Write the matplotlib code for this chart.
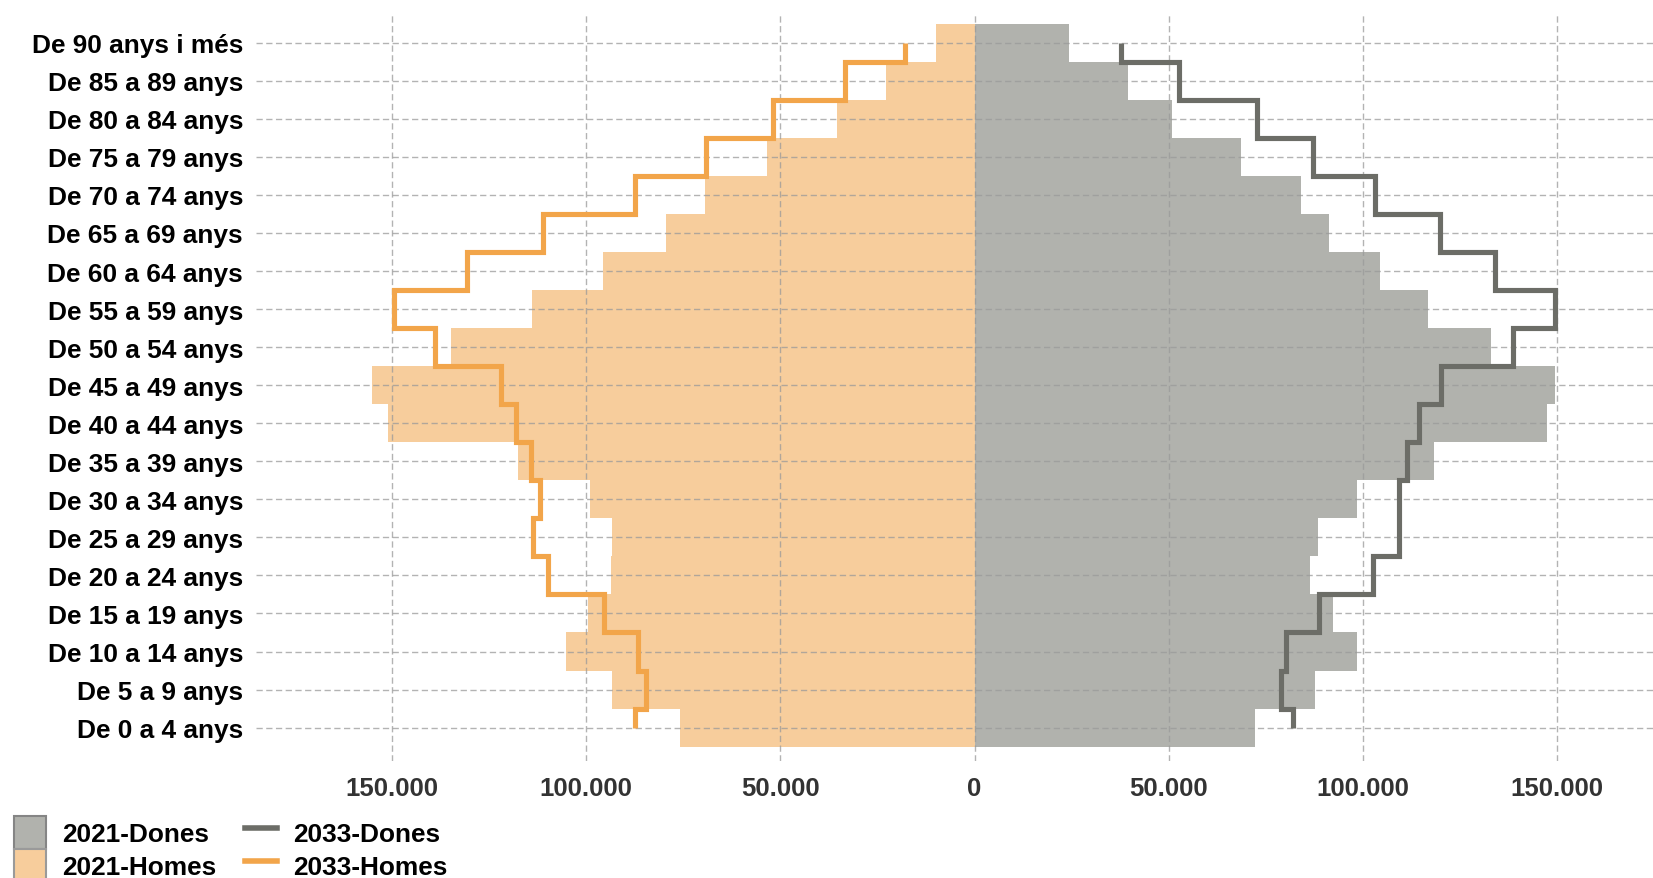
import numpy as np
import matplotlib
matplotlib.use("Agg")
import matplotlib.pyplot as plt
import matplotlib as mpl
from matplotlib.patches import Patch
from matplotlib.lines import Line2D

mpl.rcParams["font.family"] = "sans-serif"
mpl.rcParams["font.sans-serif"] = ["Liberation Sans", "DejaVu Sans"]
mpl.rcParams["font.weight"] = "bold"

# age groups, youngest first (bottom of the pyramid)
AGE_GROUPS = [
    "De 0 a 4 anys", "De 5 a 9 anys", "De 10 a 14 anys", "De 15 a 19 anys",
    "De 20 a 24 anys", "De 25 a 29 anys", "De 30 a 34 anys", "De 35 a 39 anys",
    "De 40 a 44 anys", "De 45 a 49 anys", "De 50 a 54 anys", "De 55 a 59 anys",
    "De 60 a 64 anys", "De 65 a 69 anys", "De 70 a 74 anys", "De 75 a 79 anys",
    "De 80 a 84 anys", "De 85 a 89 anys", "De 90 anys i més",
]

HOMES_2021 = [75750, 93330, 105100, 99490, 93690, 93330, 98920, 117510, 150980,
              155120, 134890, 113930, 95800, 79350, 69510, 53420, 35480, 22700, 9840]
DONES_2021 = [72140, 87670, 98480, 92200, 86480, 88520, 98480, 118360, 147400,
              149430, 132880, 116790, 104510, 91190, 84060, 68540, 50880, 39600, 24200]
HOMES_2033 = [87540, 84580, 86610, 95340, 109780, 113820, 111890, 114290, 118050,
              122010, 139030, 149410, 130840, 111150, 87540, 69050, 51930, 33470, 18020]
DONES_2033 = [81950, 78890, 80280, 88590, 102650, 109220, 109220, 111430, 114390,
              120030, 138520, 149430, 133990, 119930, 103120, 87210, 72710, 52550, 37740]

X_TICKS = [-150000, -100000, -50000, 0, 50000, 100000, 150000]
X_TICK_LABELS = ["150.000", "100.000", "50.000", "0", "50.000", "100.000", "150.000"]

C_DONES_BAR = "#b1b2ad"
C_HOMES_BAR = "#f7cd9c"
C_DONES_LINE = "#6c6d67"
C_HOMES_LINE = "#f2a54a"
C_GRID = "#9a9a9a"


def step_edges(n):
    # half band at both ends, like a mid step drawn on its side
    edges = np.arange(n + 1) - 0.5
    edges[0] = 0
    edges[-1] = n - 1
    return edges


def make_pyramid(out_png):
    n = len(AGE_GROUPS)
    y = np.arange(n)

    fig = plt.figure(figsize=(16.53, 8.79), dpi=100)
    ax = fig.add_axes([0.155, 0.133, 0.845, 0.851])

    ax.barh(y, -np.array(HOMES_2021), height=1.0, color=C_HOMES_BAR, linewidth=0, zorder=1)
    ax.barh(y, DONES_2021, height=1.0, color=C_DONES_BAR, linewidth=0, zorder=1)

    edges = step_edges(n)
    ax.stairs(-np.array(HOMES_2033), edges, orientation="horizontal", baseline=None,
              color=C_HOMES_LINE, linewidth=3.7, zorder=3)
    ax.stairs(DONES_2033, edges, orientation="horizontal", baseline=None,
              color=C_DONES_LINE, linewidth=3.7, zorder=3)

    ax.set_xlim(-185000, 174700)
    ax.set_ylim(-0.88, n - 1 + 0.78)

    ax.set_axisbelow(False)
    ax.grid(True, color=C_GRID, alpha=0.75, linewidth=1.0, linestyle=(0, (4.5, 2.5)))

    ax.set_xticks(X_TICKS)
    ax.set_xticklabels(X_TICK_LABELS, fontsize=18.5, fontweight="bold", color="#333333")
    ax.set_yticks(y)
    ax.set_yticklabels(AGE_GROUPS, fontsize=18.9, fontweight="bold", color="black")
    ax.tick_params(axis="x", length=0, pad=11)
    ax.tick_params(axis="y", length=0, pad=9.5)
    for side in ["top", "right", "bottom", "left"]:
        ax.spines[side].set_visible(False)

    handles = [
        Patch(facecolor=C_DONES_BAR, edgecolor="#858585", linewidth=1.5),
        Patch(facecolor=C_HOMES_BAR, edgecolor="#9a9a9a", linewidth=1.5),
        Line2D([], [], color=C_DONES_LINE, linewidth=4),
        Line2D([], [], color=C_HOMES_LINE, linewidth=4),
    ]
    labels = ["2021-Dones", "2021-Homes", "2033-Dones", "2033-Homes"]
    fig.legend(handles, labels, ncol=2, loc="upper left",
               bbox_to_anchor=(0.0082, 0.0709), frameon=False, borderpad=0,
               borderaxespad=0, prop={"weight": "bold", "size": 18.9},
               handlelength=1.22, handleheight=1.55, handletextpad=0.62,
               labelspacing=0.0, columnspacing=1.1)

    fig.savefig(out_png, dpi=100, facecolor="white")
    plt.close(fig)


if __name__ == "__main__":
    make_pyramid("out.png")
